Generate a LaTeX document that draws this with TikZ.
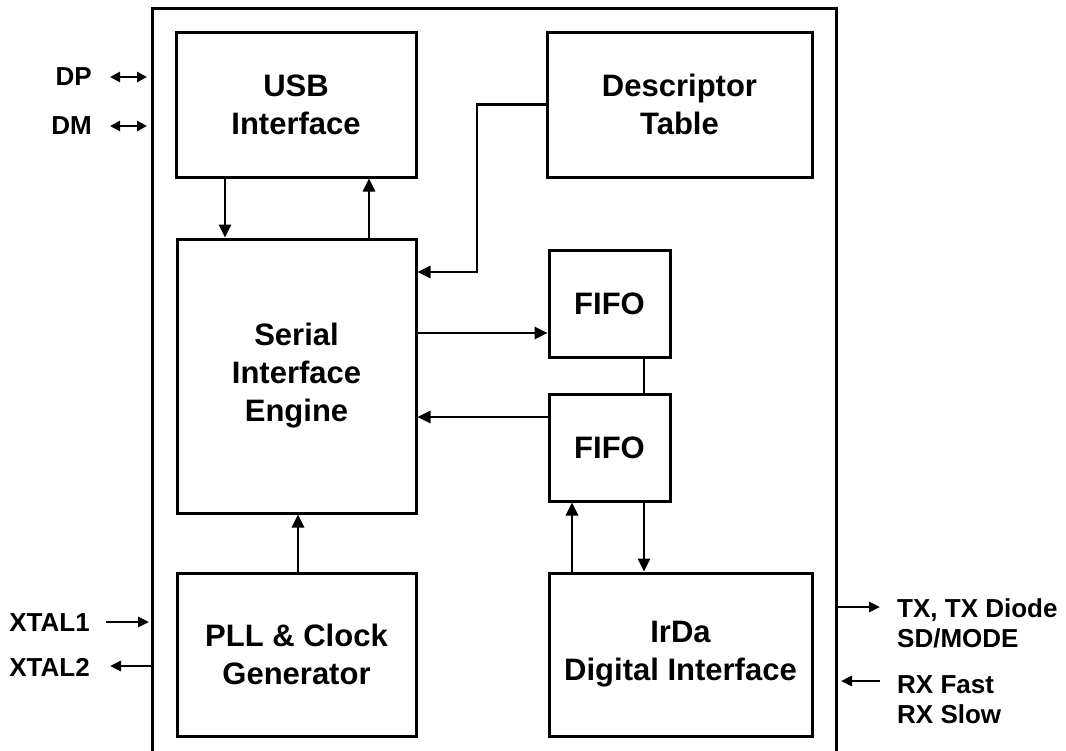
\documentclass[tikz,border=0pt]{standalone}
\usepackage{fontspec}
\setmainfont{Liberation Sans}
\usetikzlibrary{arrows.meta}
\begin{document}
\begin{tikzpicture}[x=1pt,y=-1pt,
  box/.style={draw,line width=3pt,align=center,inner sep=0pt,
    font=\fontsize{31}{38}\selectfont\bfseries},
  pin/.style={font=\fontsize{26}{30}\selectfont\bfseries,inner sep=0pt},
  arr/.style={line width=2.6pt,-{Triangle[length=13pt,width=12pt]}},
  sarr/.style={line width=2.6pt,-{Triangle[length=11pt,width=10pt]}},
  darr/.style={line width=2.6pt,{Triangle[length=10pt,width=10pt]}-{Triangle[length=10pt,width=10pt]}},
  wire/.style={line width=2.6pt}]
\useasboundingbox (0,0) rectangle (1066,750);

% chip outline, open at the bottom
\draw[line width=3pt] (152,752) -- (152,8.5) -- (836,8.5) -- (836,752);

% functional blocks
\node[box,minimum width=240pt,minimum height=145pt] (usb)  at (296,104.5) {USB\\Interface};
\node[box,minimum width=265pt,minimum height=145pt] (desc) at (679.5,104.5) {Descriptor\\Table};
\node[box,minimum width=239pt,minimum height=274pt] (sie)  at (296.5,376) {Serial\\Interface\\Engine};
\node[box,minimum width=121pt,minimum height=107pt] (fifoA) at (609.5,303.5) {FIFO};
\node[box,minimum width=121pt,minimum height=107pt] (fifoB) at (609.5,447.5) {FIFO};
\node[box,minimum width=239pt,minimum height=163pt] (pll)  at (296.5,654.5) {PLL \& Clock\\Generator};
\node[box,minimum width=263pt,minimum height=163pt] (irda) at (680.5,654.5) {IrDa\\Digital Interface};

% internal connections
\draw[arr] (usb.south -| 225,0) -- (sie.north -| 225,0);
\draw[arr] (sie.north -| 369,0) -- (usb.south -| 369,0);
\coordinate (dbend1) at (477,104.5);
\coordinate (dbend2) at (477,272);
\draw[arr] (desc.west) -- (dbend1) -- (dbend2) -- (sie.east |- dbend2);
\draw[arr] (sie.east |- 0,333) -- (fifoA.west |- 0,333);
\draw[arr] (fifoB.west |- 0,417) -- (sie.east |- 0,417);
\draw[wire] (fifoA.south -| 644,0) -- (fifoB.north -| 644,0);
\draw[arr] (irda.north -| 572,0) -- (fifoB.south -| 572,0);
\draw[arr] (fifoB.south -| 644,0) -- (irda.north -| 644,0);
\draw[arr] (pll.north -| 298,0) -- (sie.south -| 298,0);

% external pins
\node[pin,anchor=east] (dp) at (92,77) {DP};
\node[pin,anchor=east] (dm) at (92,126) {DM};
\node[pin,anchor=east] (x1) at (90,623) {XTAL1};
\node[pin,anchor=east] (x2) at (90,667) {XTAL2};
\node[pin,anchor=west,align=left] (tx) at (897,623) {TX, TX Diode\\SD/MODE};
\node[pin,anchor=west,align=left] (rx) at (897,700) {RX Fast\\RX Slow};

\coordinate (dpA) at (110,77);  \coordinate (dpB) at (147,77);
\coordinate (dmA) at (110,126); \coordinate (dmB) at (147,126);
\draw[darr] (dpA) -- (dpB);
\draw[darr] (dmA) -- (dmB);
\coordinate (x1A) at (106,622); \coordinate (x1B) at (149,622);
\draw[sarr] (x1A) -- (x1B);
\coordinate (x2A) at (152,666); \coordinate (x2B) at (110,666);
\draw[sarr] (x2A) -- (x2B);
\coordinate (txA) at (836,607); \coordinate (txB) at (880,607);
\draw[sarr] (txA) -- (txB);
\coordinate (rxA) at (880,681); \coordinate (rxB) at (841,681);
\draw[sarr] (rxA) -- (rxB);
\end{tikzpicture}
\end{document}
